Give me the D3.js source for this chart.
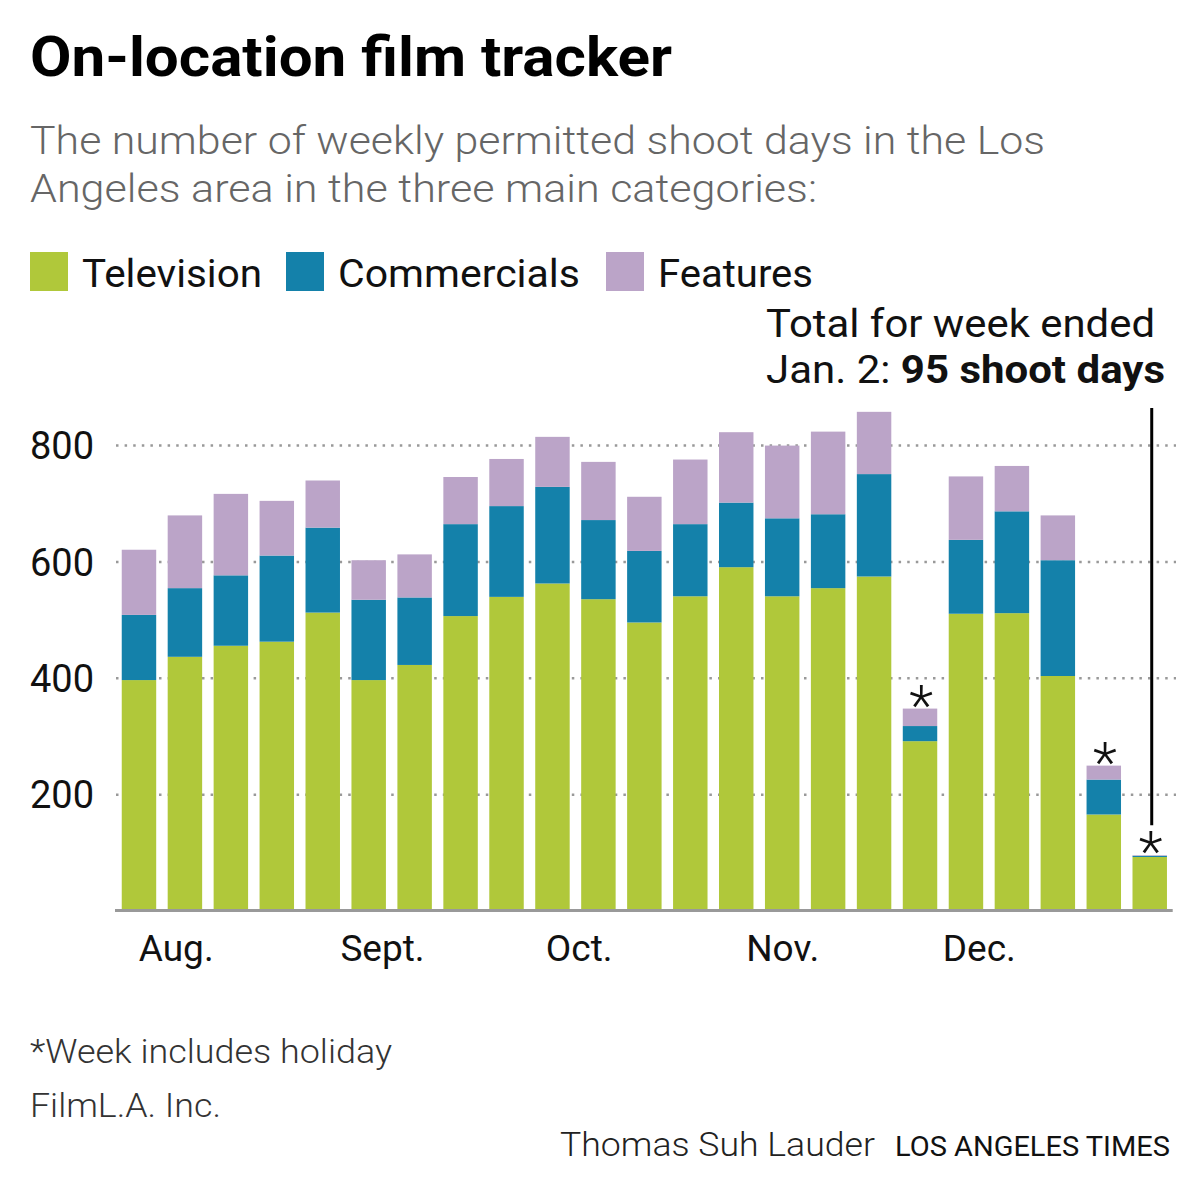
<!DOCTYPE html>
<html>
<head>
<meta charset="utf-8">
<script src="https://cdn.jsdelivr.net/npm/d3@7"></script>
<style>
  body { margin: 0; background: #fff; }
  text { font-family: Roboto, "Noto Sans", sans-serif; }
</style>
</head>
<body>
<div id="chart"></div>
<script>
// weekly permitted shoot days, weeks ended Aug 1 .. Jan 2
var weeks = d3.range(23);
var television = [396, 436, 455, 462, 512, 396, 422, 506, 539, 562, 535, 495, 540, 590, 540, 554, 574, 291, 510, 511, 403, 165, 92];
var commercials = [112, 118, 121, 148, 146, 138, 116, 158, 156, 166, 136, 123, 124, 111, 134, 127, 176, 26, 127, 175, 199, 60, 2];
var features = [112, 125, 140, 94, 81, 68, 74, 81, 81, 86, 100, 93, 111, 121, 125, 142, 107, 30, 109, 78, 77, 24, 1];
var holidayWeeks = [17, 21, 22];

var seriesKeys = ["tv", "comm", "feat"];
var seriesNames = ["Television", "Commercials", "Features"];
var seriesColors = ["#b0c83a", "#1481aa", "#bba4c8"];

var yTicks = [200, 400, 600, 800];
var monthLabels = ["Aug.", "Sept.", "Oct.", "Nov.", "Dec."];
var monthPos = [0.8, 5.29, 9.57, 14, 18.28]; // in weeks

var svgWidth = 1200;
var svgHeight = 1200;

var svg = d3.select("#chart")
  .append("svg")
  .attr("width", svgWidth)
  .attr("height", svgHeight);

// squeeze/stretch a text line to the width it has in the print version
function fitText(sel, w) {
  sel.attr("textLength", w).attr("lengthAdjust", "spacingAndGlyphs");
  return sel;
}

// title + subtitle
fitText(svg.append("text")
  .attr("x", 30)
  .attr("y", 76)
  .attr("font-size", 56)
  .attr("font-weight", "bold")
  .text("On-location film tracker"), 642);

var subLines = ["The number of weekly permitted shoot days in the Los",
  "Angeles area in the three main categories:"];
var subWidths = [1015, 787];
svg.selectAll(".sub")
  .data(subLines)
  .enter()
  .append("text")
  .attr("class", "sub")
  .attr("x", 30)
  .attr("y", (d, i) => 154 + i * 48)
  .attr("font-size", 39)
  .attr("font-weight", 300)
  .attr("fill", "#666")
  .attr("textLength", (d, i) => subWidths[i])
  .attr("lengthAdjust", "spacingAndGlyphs")
  .text(d => d);

// legend
var legendX = [30, 286, 606];
var legendW = [180, 242, 155];
var legend = svg.selectAll(".legend")
  .data(seriesNames)
  .enter()
  .append("g")
  .attr("class", "legend")
  .attr("transform", (d, i) => `translate(${legendX[i]}, 252)`);

legend.append("rect")
  .attr("width", 38)
  .attr("height", 39)
  .attr("fill", (d, i) => seriesColors[i]);

legend.append("text")
  .attr("x", 52)
  .attr("y", 35)
  .attr("font-size", 39)
  .attr("fill", "#111")
  .attr("textLength", (d, i) => legendW[i])
  .attr("lengthAdjust", "spacingAndGlyphs")
  .text(d => d);

// scales
var x = d3.scaleBand()
  .domain(weeks)
  .range([116, 1172.7])
  .paddingInner(0.25)
  .paddingOuter(0.125);

var y = d3.scaleLinear()
  .domain([0, 800])
  .range([910.5, 445]);

var weekX = d3.scaleLinear()
  .domain([0, 22])
  .range([x(0) + x.bandwidth() / 2, x(22) + x.bandwidth() / 2]);

// gridlines + y labels
var yAxis = svg.append("g")
  .attr("transform", "translate(116, 0)")
  .call(d3.axisRight(y).tickValues(yTicks).tickSize(1060).tickPadding(0));

yAxis.select(".domain").remove();
yAxis.selectAll("line")
  .attr("stroke", "#999")
  .attr("stroke-width", 2.5)
  .attr("stroke-dasharray", "2.5,6.1");
yAxis.selectAll("text")
  .attr("x", -86)
  .attr("dy", "0.36em")
  .attr("text-anchor", "start")
  .attr("font-size", 38)
  .attr("font-family", "Roboto, sans-serif")
  .attr("fill", "#111");

// stacked bars
var table = weeks.map(i => ({ tv: television[i], comm: commercials[i], feat: features[i] }));
var stacked = d3.stack().keys(seriesKeys)(table);

svg.append("g")
  .selectAll("g")
  .data(stacked)
  .enter()
  .append("g")
  .attr("fill", (d, i) => seriesColors[i])
  .selectAll("rect")
  .data(d => d)
  .enter()
  .append("rect")
  .attr("x", (d, i) => x(i))
  .attr("width", x.bandwidth())
  .attr("y", d => y(d[1]))
  .attr("height", d => y(d[0]) - y(d[1]));

// baseline
svg.append("line")
  .attr("x1", x.range()[0] - 1)
  .attr("x2", x.range()[1])
  .attr("y1", y(0))
  .attr("y2", y(0))
  .attr("stroke", "#999")
  .attr("stroke-width", 3);

// month labels
var xAxis = svg.append("g")
  .attr("transform", `translate(0, ${y(0)})`)
  .call(d3.axisBottom(weekX).tickValues(monthPos).tickSize(0).tickPadding(24)
    .tickFormat((d, i) => monthLabels[i]));

xAxis.select(".domain").remove();
xAxis.selectAll("text")
  .attr("font-size", 37)
  .attr("font-family", "Roboto, sans-serif")
  .attr("fill", "#111");

// holiday asterisks
svg.selectAll(".star")
  .data(holidayWeeks)
  .enter()
  .append("text")
  .attr("class", "star")
  .attr("x", d => x(d) + x.bandwidth() / 2 + 1)
  .attr("y", d => y(television[d] + commercials[d] + features[d]) + 16)
  .attr("text-anchor", "middle")
  .attr("font-size", 56)
  .attr("font-weight", 300)
  .attr("fill", "#111")
  .text("*");

// annotation for last week
var last = weeks.length - 1;
var lastTotal = television[last] + commercials[last] + features[last];
var lineX = x(last) + x.bandwidth() / 2 + 2;

svg.append("line")
  .attr("x1", lineX)
  .attr("x2", lineX)
  .attr("y1", 408)
  .attr("y2", y(lastTotal) - 30)
  .attr("stroke", "#000")
  .attr("stroke-width", 3);

fitText(svg.append("text")
  .attr("x", 766)
  .attr("y", 337)
  .attr("font-size", 39)
  .attr("fill", "#111")
  .text("Total for week ended"), 389);

var note = svg.append("text")
  .attr("x", 766)
  .attr("y", 383)
  .attr("font-size", 39)
  .attr("fill", "#111");
note.append("tspan").text("Jan. 2: ");
note.append("tspan").attr("font-weight", "bold").text(lastTotal + " shoot days");
fitText(note, 399);

// footer
fitText(svg.append("text")
  .attr("x", 30)
  .attr("y", 1063)
  .attr("font-size", 33)
  .attr("font-weight", 300)
  .attr("fill", "#333")
  .text("*Week includes holiday"), 362);

fitText(svg.append("text")
  .attr("x", 30)
  .attr("y", 1117)
  .attr("font-size", 33)
  .attr("font-weight", 300)
  .attr("fill", "#333")
  .text("FilmL.A. Inc."), 191);

fitText(svg.append("text")
  .attr("x", 560)
  .attr("y", 1156)
  .attr("font-size", 34)
  .attr("font-weight", 300)
  .attr("fill", "#222")
  .text("Thomas Suh Lauder"), 315);

fitText(svg.append("text")
  .attr("x", 895)
  .attr("y", 1156)
  .attr("font-size", 27)
  .attr("fill", "#111")
  .text("LOS ANGELES TIMES"), 275);
</script>
</body>
</html>
